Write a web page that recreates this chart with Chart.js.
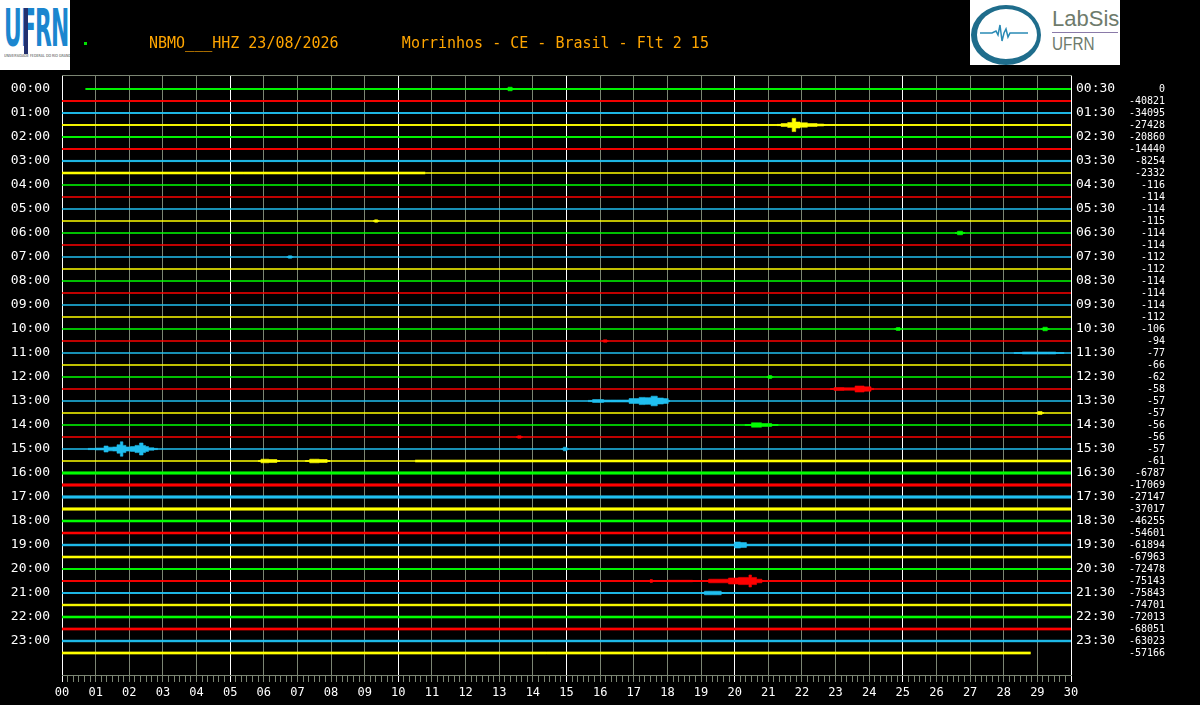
<!DOCTYPE html>
<html>
<head>
<meta charset="utf-8">
<script src="https://cdn.jsdelivr.net/npm/chart.js@4.4.1/dist/chart.umd.min.js"></script>
<style>
  body { margin: 0; background: #000; width: 1200px; height: 705px; overflow: hidden; position: relative; font-family: 'DejaVu Sans Mono', monospace; }
  #helicorder { position: absolute; left: 0; top: 0; }
  .title { position: absolute; left: 149px; top: 34px; color: #ffa500; font-size: 15px; line-height: 18px; white-space: pre; }
  .dot { position: absolute; left: 84px; top: 42px; width: 3px; height: 3px; background: #00e000; }
  .ufrn { position: absolute; left: 0; top: 0; width: 70px; height: 70px; background: #fff; overflow: hidden; }
  .ufrn .uf { position: absolute; left: 4px; top: 0px; font: bold 52px/56px 'DejaVu Sans'; color: #1b86cf; letter-spacing: -2px; transform: scaleX(0.42); transform-origin: left top; }
  .ufrn .bar { position: absolute; left: 24px; top: 8px; width: 4px; height: 46px; background: #23306e; }
  .ufrn .sub { position: absolute; left: 4px; top: 53px; font: 6px 'DejaVu Sans'; color: #444; white-space: nowrap; transform: scale(0.55, 0.7); transform-origin: left top; }
  .labsis { position: absolute; left: 970px; top: 0; width: 150px; height: 65px; background: #fff; overflow: hidden; }
  .labsis .ring { position: absolute; left: 1px; top: 5px; width: 60px; height: 50px; border: 4px solid #1f6d8c; border-left-width: 6px; border-bottom-width: 6px; border-radius: 50%; }
  .labsis svg { position: absolute; left: 0; top: 0; }
  .labsis .lab { position: absolute; left: 82px; top: 6px; font: 22px 'Liberation Sans'; color: #6e7b6c; }
  .labsis .rule { position: absolute; left: 82px; top: 32px; width: 66px; height: 1px; background: #8a7aa8; }
  .labsis .uf2 { position: absolute; left: 82px; top: 34px; font: 18px 'Liberation Sans'; color: #6e7b6c; transform: scaleX(0.85); transform-origin: left top; }
</style>
</head>
<body>
<canvas id="helicorder" width="1200" height="705"></canvas>
<div class="ufrn"><span class="uf">UFRN</span><div class="bar"></div><span class="sub">UNIVERSIDADE FEDERAL DO RIO GRANDE DO NORTE</span></div>
<div class="dot"></div>
<div class="title">NBMO___HHZ 23/08/2026       Morrinhos - CE - Brasil - Flt 2 15</div>
<div class="labsis">
  <div class="ring"></div>
  <svg width="70" height="65"><polyline points="10,33 22,33 26,31 28,35 30,25 32,41 34,33 36,29 38,37 40,33 58,33" fill="none" stroke="#2a8ab5" stroke-width="1.5"/></svg>
  <span class="lab">LabSis</span><div class="rule"></div><span class="uf2">UFRN</span>
</div>
<script>
const minuteLabels = ['00','01','02','03','04','05','06','07','08','09','10','11','12','13','14','15',
    '16','17','18','19','20','21','22','23','24','25','26','27','28','29','30'];
const hourLabels = ['00:00','01:00','02:00','03:00','04:00','05:00','06:00','07:00','08:00','09:00','10:00','11:00',
    '12:00','13:00','14:00','15:00','16:00','17:00','18:00','19:00','20:00','21:00','22:00','23:00'];
const halfHourLabels = ['00:30','01:30','02:30','03:30','04:30','05:30','06:30','07:30','08:30','09:30','10:30','11:30',
    '12:30','13:30','14:30','15:30','16:30','17:30','18:30','19:30','20:30','21:30','22:30','23:30'];
// mean counts of each 30 min trace (right column)
const traceCounts = [0, -40821, -34095, -27428, -20860, -14440, -8254, -2332,
    -116, -114, -114, -115, -114, -114, -112, -112, -114, -114, -114, -112,
    -106, -94, -77, -66, -62, -58, -57, -57, -56, -56, -57, -61,
    -6787, -17069, -27147, -37017, -46255, -54601, -61894, -67963,
    -72478, -75143, -75843, -74701, -72013, -68051, -63023, -57166];
// traces with missing data at the start / end: [trace, minute]
const lateStarts = [[0, 0.7]];
const earlyEnds = [[47, 28.8]];
// background noise level: [trace, from min, to min, half amplitude (trace spacing units)]
const noiseBands = [
    [0, 0.7, 30, 0.04], [1, 0, 30, 0.04], [2, 0, 30, 0.04], [3, 0, 30, 0.035],
    [4, 0, 30, 0.04], [5, 0, 30, 0.04], [6, 0, 30, 0.05], [7, 0, 10.8, 0.08],
    [31, 10.5, 30, 0.08],
    [32, 0, 30, 0.1], [33, 0, 30, 0.1], [34, 0, 30, 0.1], [35, 0, 30, 0.1],
    [36, 0, 30, 0.08], [37, 0, 30, 0.08], [38, 0, 30, 0.07], [39, 0, 30, 0.08],
    [40, 0, 30, 0.04], [41, 0, 30, 0.04], [42, 0, 30, 0.04], [43, 0, 30, 0.07],
    [44, 0, 30, 0.08], [45, 0, 30, 0.09], [46, 0, 30, 0.07], [47, 0, 28.8, 0.09]
];
// events and blips: trace, minutes, envelope half amplitude
const eventTrace = [30, 3, 26, 25, 41, 38, 42, 0, 12, 20, 20, 24, 28, 31, 31, 29, 22, 21, 27, 14, 30, 11];
const eventMinutes = [
    [0.77, 1.19, 1.31, 1.43, 1.58, 1.69, 1.78, 1.84, 1.96, 2.11, 2.23, 2.38, 2.44, 2.53, 2.62, 2.85],
    [21.26, 21.5, 21.65, 21.77, 21.86, 22.03, 22.3, 22.6, 22.7],
    [15.64, 15.91, 16.3, 16.65, 17.07, 17.25, 17.43, 17.6, 17.8, 17.97, 18.08],
    [22.84, 23.07, 23.43, 23.73, 23.97, 24.14],
    [17.48, 17.63, 18.38, 19.12, 19.33, 19.62, 20.01, 20.22, 20.4, 20.45, 20.55, 20.75, 20.87],
    [19.95, 20.05, 20.3, 20.4],
    [19.0, 19.2, 19.5, 19.7],
    [13.2, 13.32, 13.45],
    [26.55, 26.7, 26.85],
    [24.75, 24.86, 24.97],
    [29.1, 29.23, 29.36],
    [20.95, 21.05, 21.15],
    [20.3, 20.7, 20.9, 21.3],
    [5.83, 6.0, 6.3, 6.48],
    [7.23, 7.5, 7.8, 7.97],
    [13.5, 13.6, 13.7],
    [28.3, 28.8, 29.3, 29.8],
    [16.05, 16.15, 16.25],
    [28.95, 29.08, 29.2],
    [6.68, 6.78, 6.88],
    [14.85, 14.96, 15.07],
    [9.25, 9.34, 9.43]
];
const eventAmps = [
    [0.05, 0.08, 0.25, 0.15, 0.17, 0.35, 0.6, 0.3, 0.17, 0.2, 0.3, 0.5, 0.3, 0.2, 0.1, 0.05],
    [0.05, 0.12, 0.2, 0.55, 0.25, 0.18, 0.12, 0.08, 0.03],
    [0.05, 0.12, 0.08, 0.08, 0.2, 0.3, 0.28, 0.4, 0.25, 0.2, 0.05],
    [0.04, 0.12, 0.1, 0.25, 0.18, 0.05],
    [0.12, 0.03, 0.06, 0.04, 0.15, 0.15, 0.25, 0.3, 0.3, 0.5, 0.3, 0.15, 0.03],
    [0.05, 0.25, 0.2, 0.05],
    [0.04, 0.15, 0.15, 0.04],
    [0.03, 0.15, 0.03],
    [0.03, 0.15, 0.03],
    [0.03, 0.12, 0.03],
    [0.03, 0.15, 0.03],
    [0.03, 0.12, 0.03],
    [0.04, 0.18, 0.12, 0.04],
    [0.04, 0.15, 0.12, 0.04],
    [0.04, 0.15, 0.12, 0.04],
    [0.03, 0.1, 0.03],
    [0.04, 0.08, 0.08, 0.04],
    [0.03, 0.1, 0.03],
    [0.03, 0.12, 0.03],
    [0.03, 0.1, 0.03],
    [0.03, 0.15, 0.03],
    [0.03, 0.1, 0.03]
];

const traceColors = ['#00ff00', '#ff0000', '#20bff0', '#ffff00'];
const gridGray = '#7b8573';
const datasets = [];

function colorOf(trace) {
    return traceColors[trace % traceColors.length];
}

// envelope drawn as two stepped lines with the fill between them
function addEnvelope(trace, minutes, amps) {
    const c = colorOf(trace);
    datasets.push({
        data: minutes.map((m, k) => ({x: m * 60, y: -trace + amps[k]})),
        borderColor: c, backgroundColor: c, borderWidth: 0.6, pointRadius: 0, fill: '+1', stepped: 'middle'
    });
    datasets.push({
        data: minutes.map((m, k) => ({x: m * 60, y: -trace - amps[k]})),
        borderColor: c, borderWidth: 0.6, pointRadius: 0, fill: false, stepped: 'middle'
    });
}

traceCounts.forEach((c, i) => {
    const start = lateStarts.find(s => s[0] === i);
    const end = earlyEnds.find(e => e[0] === i);
    datasets.push({
        data: [{x: (start ? start[1] : 0) * 60, y: -i}, {x: (end ? end[1] : 30) * 60, y: -i}],
        borderColor: colorOf(i), borderWidth: 1.3, pointRadius: 0, fill: false
    });
});
noiseBands.forEach(b => addEnvelope(b[0], [b[1], b[2]], [b[3], b[3]]));
eventTrace.forEach((t, k) => addEnvelope(t, eventMinutes[k], eventAmps[k]));

const setTraceTicks = scale => {
    scale.ticks = traceCounts.map((c, i) => ({value: -i}));
};

new Chart(document.getElementById('helicorder'), {
    type: 'line',
    data: { datasets: datasets },
    options: {
        responsive: false,
        animation: false,
        layout: { padding: { top: 75, right: 35, bottom: 0, left: 0 } },
        plugins: { legend: { display: false }, tooltip: { enabled: false } },
        elements: { line: { tension: 0 } },
        scales: {
            x: {
                type: 'linear', position: 'bottom', min: 0, max: 1800,
                ticks: {
                    stepSize: 10, autoSkip: false, maxRotation: 0, padding: 4, color: '#fff',
                    font: { family: 'DejaVu Sans Mono', size: 12 },
                    callback: v => v % 60 === 0 ? minuteLabels[v / 60] : ''
                },
                grid: {
                    tickLength: 7,
                    color: ctx => ctx.tick.value % 300 === 0 ? '#ffffff' : (ctx.tick.value % 60 === 0 ? gridGray : 'rgba(0,0,0,0)'),
                    tickColor: ctx => ctx.tick.value % 300 === 0 ? '#ffffff' : gridGray
                },
                border: { color: gridGray },
                afterFit: s => { s.height = 30; }
            },
            xTop: {
                type: 'linear', position: 'top', min: 0, max: 1800,
                ticks: { display: false },
                grid: { color: 'rgba(0,0,0,0)', drawTicks: false },
                border: { color: gridGray },
                afterFit: s => { s.height = 0; }
            },
            y: {
                type: 'linear', position: 'left', min: -48.8333, max: 1.1667,
                afterBuildTicks: setTraceTicks,
                grid: { display: false, drawTicks: false }, border: { display: false },
                ticks: {
                    autoSkip: false, padding: 12, color: '#fff',
                    font: { family: 'DejaVu Sans Mono', size: 13 },
                    callback: v => (-v) % 2 === 0 ? hourLabels[-v / 2] : ''
                },
                afterFit: s => { s.width = 62; }
            },
            yHalf: {
                type: 'linear', position: 'right', weight: 0, min: -48.8333, max: 1.1667,
                afterBuildTicks: setTraceTicks,
                grid: { display: false, drawTicks: false }, border: { display: false },
                ticks: {
                    autoSkip: false, padding: 5, color: '#fff',
                    font: { family: 'DejaVu Sans Mono', size: 13 },
                    callback: v => (-v) % 2 === 0 ? halfHourLabels[-v / 2] : ''
                },
                afterFit: s => { s.width = 49; }
            },
            yCounts: {
                type: 'linear', position: 'right', weight: 1, min: -48.8333, max: 1.1667,
                afterBuildTicks: setTraceTicks,
                grid: { display: false, drawTicks: false }, border: { display: false },
                ticks: {
                    autoSkip: false, padding: 0, crossAlign: 'far', color: '#fff',
                    font: { family: 'DejaVu Sans Mono', size: 10 },
                    callback: v => String(traceCounts[-v])
                },
                afterFit: s => { s.width = 45; }
            }
        }
    }
});
</script>
</body>
</html>
